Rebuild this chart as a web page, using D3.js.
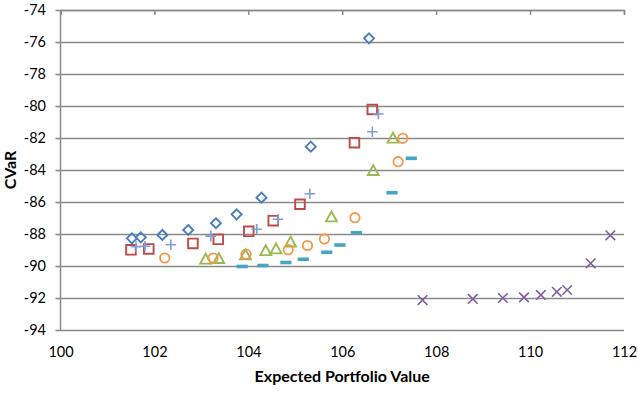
<!DOCTYPE html>
<html lang="en">
<head>
<meta charset="UTF-8">
<title>CVaR vs Expected Portfolio Value</title>
<script src="https://d3js.org/d3.v7.min.js"></script>
<style>
  body { margin: 0; background: #fff; }
  text { font-family: "Lato", "Open Sans", sans-serif; fill: #000; }
</style>
</head>
<body>
<div id="chart"></div>
<script>
// tick values
var xTicks = [100, 102, 104, 106, 108, 110, 112];
var yTicks = [-94, -92, -90, -88, -86, -84, -82, -80, -78, -76, -74];

// series values (x = expected portfolio value, y = CVaR)
var diamondX = [101.52, 101.71, 102.17, 102.72, 103.31, 103.75, 104.28, 105.33, 106.57];
var diamondY = [-88.27, -88.21, -88.06, -87.75, -87.33, -86.77, -85.73, -82.54, -75.77];

var squareX = [101.50, 101.88, 102.82, 103.36, 104.01, 104.53, 105.10, 106.26, 106.64];
var squareY = [-88.99, -88.93, -88.59, -88.33, -87.83, -87.17, -86.14, -82.29, -80.22];

var triangleX = [103.09, 103.37, 103.94, 104.37, 104.59, 104.90, 105.77, 106.66, 107.08];
var triangleY = [-89.58, -89.54, -89.31, -89.05, -88.94, -88.51, -86.94, -84.04, -82.02];

var crossX = [107.71, 108.78, 109.42, 109.87, 110.23, 110.57, 110.79, 111.29, 111.71];
var crossY = [-92.13, -92.06, -92.00, -91.96, -91.81, -91.61, -91.50, -89.83, -88.08];

var dashX = [103.87, 104.31, 104.80, 105.17, 105.67, 105.95, 106.30, 107.06, 107.47];
var dashY = [-90.03, -89.97, -89.78, -89.58, -89.14, -88.69, -87.92, -85.42, -83.27];

var circleX = [102.22, 103.25, 103.95, 104.85, 105.26, 105.62, 106.27, 107.19, 107.29];
var circleY = [-89.50, -89.50, -89.26, -88.98, -88.72, -88.31, -86.98, -83.48, -82.02];

var plusX = [101.61, 101.80, 102.35, 103.20, 104.18, 104.63, 105.31, 106.64, 106.77];
var plusY = [-88.79, -88.77, -88.67, -88.13, -87.70, -87.08, -85.48, -81.61, -80.50];

var W = 638, H = 398;
var plotL = 60.5, plotR = 624, plotT = 10, plotB = 330;
var gridColor = "#8a8a8a";

var svg = d3.select("#chart").append("svg")
    .attr("width", W)
    .attr("height", H);

var x = d3.scaleLinear().domain([100, 112]).range([plotL, plotR]);
var y = d3.scaleLinear().domain([-94, -74]).range([plotB, plotT]);

// horizontal gridlines + y tick marks + labels (drawn from the right edge)
var yAxis = svg.append("g")
    .attr("transform", "translate(" + plotR + ",0)")
    .call(d3.axisLeft(y).tickValues(yTicks)
        .tickSizeInner(plotR - plotL + 5).tickSizeOuter(0).tickPadding(9.5)
        .tickFormat(function(d) { return d; }));
yAxis.select(".domain").remove();
yAxis.selectAll("line").attr("stroke", gridColor).attr("stroke-width", 1.5);
yAxis.selectAll("text").style("font-size", "14.5px").attr("font-family", null);

// vertical axis line
svg.append("line")
    .attr("x1", plotL).attr("x2", plotL)
    .attr("y1", plotT).attr("y2", plotB)
    .attr("stroke", gridColor).attr("stroke-width", 1.5);

// horizontal axis sits at the top (crosses at 0), ticks point down
var xTop = svg.append("g")
    .attr("transform", "translate(0," + plotT + ")")
    .call(d3.axisBottom(x).tickValues(xTicks).tickSize(5).tickFormat(""));
xTop.select(".domain").attr("stroke", gridColor).attr("stroke-width", 1.5);
xTop.selectAll("line").attr("stroke", gridColor).attr("stroke-width", 1.5);

// its labels are placed low, under the plot
var xLab = svg.append("g")
    .attr("transform", "translate(0," + plotB + ")")
    .call(d3.axisBottom(x).tickValues(xTicks).tickSize(0).tickPadding(17));
xLab.select(".domain").remove();
xLab.selectAll("text").style("font-size", "14.5px").attr("font-family", null);

// axis titles
svg.append("text")
    .attr("x", (plotL + plotR) / 2)
    .attr("y", 381.5)
    .attr("text-anchor", "middle")
    .style("font-size", "16px")
    .style("font-weight", "bold")
    .text("Expected Portfolio Value");

svg.append("text")
    .attr("transform", "translate(15.5," + (plotT + plotB) / 2 + ")rotate(-90)")
    .attr("text-anchor", "middle")
    .style("font-size", "16px")
    .style("font-weight", "bold")
    .text("CVaR");

// series definitions
var series = [
    {xs: diamondX, ys: diamondY, color: "#4a7ebb", shape: "diamond"},
    {xs: squareX, ys: squareY, color: "#be4b48", shape: "square"},
    {xs: triangleX, ys: triangleY, color: "#98b954", shape: "triangle"},
    {xs: crossX, ys: crossY, color: "#7d60a0", shape: "cross"},
    {xs: dashX, ys: dashY, color: "#46a5c2", shape: "dash"},
    {xs: circleX, ys: circleY, color: "#f59845", shape: "circle"},
    {xs: plusX, ys: plusY, color: "#7f9ed8", shape: "plus"}
];

var paths = {
    diamond: "M0,-5L5,0L0,5L-5,0Z",
    square: "M-4.8,-4.8H4.8V4.8H-4.8Z",
    triangle: "M0,-5.5L5.4,4.3H-5.4Z",
    cross: "M-4.8,-4.8L4.8,4.8M4.8,-4.8L-4.8,4.8",
    plus: "M-5.3,0H5.3M0,-5.3V5.3"
};

series.forEach(function(s) {
    var pts = s.xs.map(function(v, i) { return {x: v, y: s.ys[i]}; });
    var g = svg.append("g").selectAll("g")
        .data(pts)
        .enter()
        .append("g")
        .attr("transform", function(d) { return "translate(" + x(d.x) + "," + y(d.y) + ")"; });

    if (s.shape == "circle") {
        g.append("circle").attr("r", 4.7)
            .attr("fill", "none").attr("stroke", s.color).attr("stroke-width", 1.8);
    } else if (s.shape == "dash") {
        g.append("rect").attr("x", -5.6).attr("y", -1.8).attr("width", 11.2).attr("height", 3.6)
            .attr("fill", s.color);
    } else {
        g.append("path").attr("d", paths[s.shape])
            .attr("fill", "none").attr("stroke", s.color)
            .attr("stroke-width", s.shape == "plus" || s.shape == "cross" ? 1.6 : 1.9);
    }
});
</script>
</body>
</html>
